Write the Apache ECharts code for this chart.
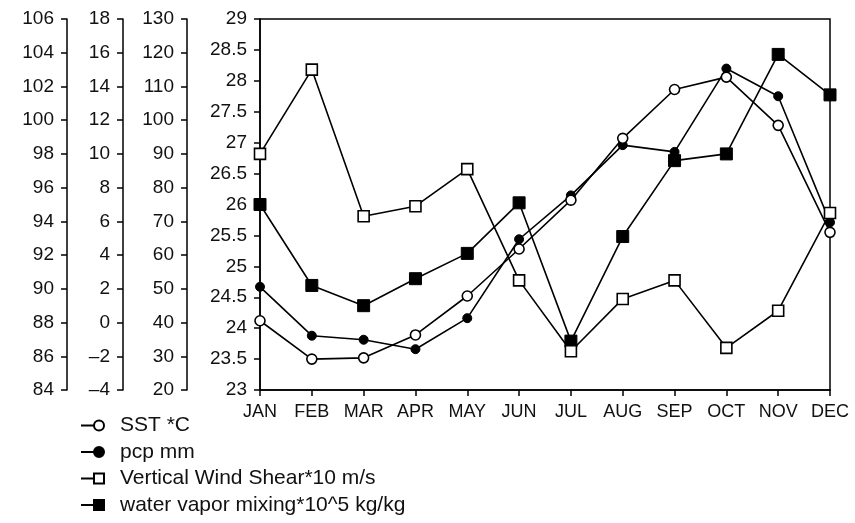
<!DOCTYPE html>
<html>
<head>
<meta charset="utf-8">
<script src="https://cdn.jsdelivr.net/npm/echarts@6/dist/echarts.min.js"></script>
<style>
html,body{margin:0;padding:0;background:#fff;}
#chart{width:855px;height:523px;}
</style>
</head>
<body>
<div id="chart"></div>
<script>
const months = ['JAN','FEB','MAR','APR','MAY','JUN','JUL','AUG','SEP','OCT','NOV','DEC'];
// SST (°C) on the 23–29 axis
const sst = [24.12, 23.50, 23.52, 23.89, 24.52, 25.28, 26.07, 27.07, 27.86, 28.06, 27.28, 25.55];
// pcp (mm) on the 20–130 axis
const pcp = [50.6, 36.1, 34.9, 32.1, 41.3, 64.7, 77.7, 92.6, 90.6, 115.3, 107.1, 69.7];
// Vertical wind shear on the -4–18 axis
const shear = [10.0, 15.0, 6.3, 6.9, 9.1, 2.5, -1.7, 1.4, 2.5, -1.5, 0.7, 6.5];
// Water vapor mixing on the 84–106 axis
const vapor = [95.0, 90.2, 89.0, 90.6, 92.1, 95.1, 86.9, 93.1, 97.6, 98.0, 103.9, 101.5];

const seriesNames = ['SST *C', 'pcp mm', 'Vertical Wind Shear*10 m/s', 'water vapor mixing*10^5 kg/kg'];

const FONT = 'Liberation Sans, Arial, Helvetica, sans-serif';
const TXT = '#111';

function yAx(min, max, interval, offset) {
  return {
    type: 'value', position: 'left', min: min, max: max, interval: interval, offset: offset,
    axisLine: { show: true, onZero: false, lineStyle: { color: '#000', width: 1.5 } },
    axisTick: { show: true, length: 6, lineStyle: { color: '#000', width: 1.5 } },
    splitLine: { show: false },
    axisLabel: {
      color: TXT, fontSize: 19, fontFamily: FONT, margin: 13,
      formatter: function (v) { return String(v).replace('-', '\u2013'); }
    }
  };
}

const chart = echarts.init(document.getElementById('chart'), null, { renderer: 'canvas' });

const lineStyle = { color: '#000', width: 1.6 };
const circleIcon = 'path://M0,5 L13,5 M13,5 A5,5 0 1,1 23,5 A5,5 0 1,1 13,5 Z';
const squareIcon = 'path://M0,5 L13,5 M13,0 L23,0 L23,10 L13,10 Z';

chart.setOption({
  backgroundColor: '#fff',
  animation: false,
  textStyle: { fontFamily: FONT },
  grid: {
    left: 260, right: 25, top: 19, bottom: 133,
    show: true, borderColor: '#000', borderWidth: 1.5, backgroundColor: 'transparent'
  },
  legend: {
    orient: 'vertical', left: 80, top: 415, padding: 0, height: 108,
    itemGap: 5.5, itemWidth: 23, itemHeight: 10,
    textStyle: { color: TXT, fontSize: 21, fontFamily: FONT, padding: [0, 0, 0, 11] },
    data: [
      { name: seriesNames[0], icon: circleIcon },
      { name: seriesNames[1], icon: circleIcon },
      { name: seriesNames[2], icon: squareIcon },
      { name: seriesNames[3], icon: squareIcon }
    ]
  },
  xAxis: {
    type: 'category', data: months, boundaryGap: false,
    axisLine: { show: true, onZero: false, lineStyle: { color: '#000', width: 1.5 } },
    axisTick: { show: true, length: 6, lineStyle: { color: '#000', width: 1.5 } },
    axisLabel: { color: TXT, fontSize: 18, fontFamily: FONT, margin: 13, interval: 0 }
  },
  yAxis: [
    yAx(84, 106, 2, 193),
    yAx(-4, 18, 2, 137),
    yAx(20, 130, 10, 73),
    yAx(23, 29, 0.5, 0)
  ],
  series: [
    {
      name: seriesNames[0], type: 'line', yAxisIndex: 3, data: sst,
      symbol: 'circle', symbolSize: 10, lineStyle: lineStyle,
      itemStyle: { color: '#fff', borderColor: '#000', borderWidth: 1.6 }, z: 4
    },
    {
      name: seriesNames[1], type: 'line', yAxisIndex: 2, data: pcp,
      symbol: 'circle', symbolSize: 9, lineStyle: lineStyle,
      itemStyle: { color: '#000', borderColor: '#000', borderWidth: 1 }, z: 3
    },
    {
      name: seriesNames[2], type: 'line', yAxisIndex: 1, data: shear,
      symbol: 'rect', symbolSize: 11, lineStyle: lineStyle,
      itemStyle: { color: '#fff', borderColor: '#000', borderWidth: 1.6 }, z: 4
    },
    {
      name: seriesNames[3], type: 'line', yAxisIndex: 0, data: vapor,
      symbol: 'rect', symbolSize: 12, lineStyle: lineStyle,
      itemStyle: { color: '#000', borderColor: '#000', borderWidth: 1 }, z: 3
    }
  ]
});
</script>
</body>
</html>
